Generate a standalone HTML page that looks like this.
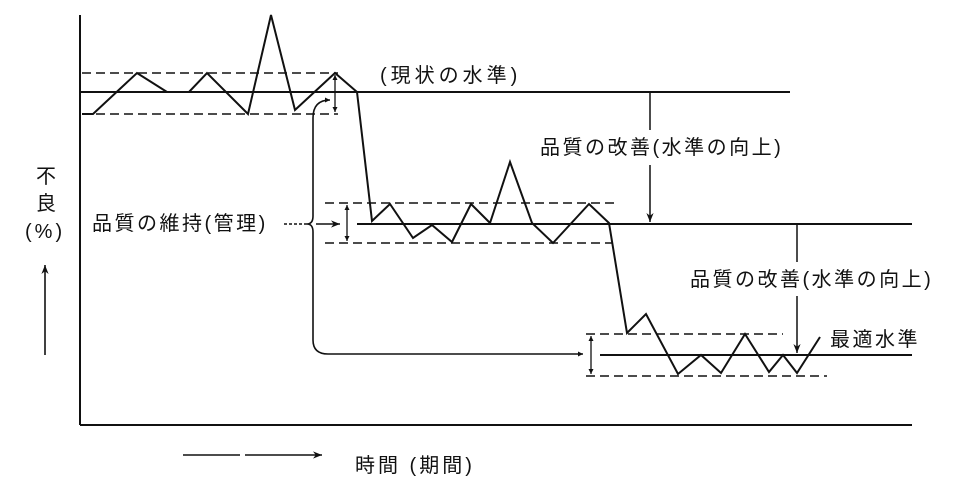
<!DOCTYPE html>
<html><head><meta charset="utf-8"><style>
html,body{margin:0;padding:0;background:#fff;}
svg{display:block;}
text{font-family:"Liberation Sans","Noto Sans CJK JP",sans-serif;font-size:20px;fill:#111;letter-spacing:2.5px;}
</style></head><body>
<svg width="978" height="486" viewBox="0 0 978 486" xmlns="http://www.w3.org/2000/svg">
<defs>
<marker id="ah" viewBox="0 0 10 10" refX="10" refY="5" markerWidth="9" markerHeight="9" orient="auto-start-reverse" markerUnits="userSpaceOnUse"><path d="M0,1 L10,5 L0,9 L3,5 z" fill="#111"/></marker>
<marker id="sm" viewBox="0 0 10 10" refX="10" refY="5" markerWidth="5" markerHeight="5" orient="auto-start-reverse" markerUnits="userSpaceOnUse"><path d="M0,0 L10,5 L0,10 z" fill="#111"/></marker>
</defs>
<g stroke="#111" fill="none" stroke-width="2">
<line x1="80" y1="15" x2="80" y2="425"/>
<line x1="80" y1="425" x2="912" y2="425"/>
<line x1="80" y1="92" x2="790" y2="92"/>
<line x1="357" y1="224" x2="912" y2="224"/>
<line x1="600" y1="355" x2="912" y2="355"/>
<g stroke-dasharray="9,5" stroke-width="1.6">
<line x1="82" y1="73" x2="338" y2="73"/><line x1="82" y1="114" x2="338" y2="114"/>
<line x1="325" y1="203" x2="619" y2="203"/><line x1="325" y1="243" x2="612" y2="243"/>
<line x1="586" y1="334" x2="783" y2="334"/><line x1="586" y1="376" x2="827" y2="376"/>
</g>
<polyline points="82,114 93,114 137,73 167,92 189,92 207,73 248,114 271,15 295,110 335,73 357,92 372,221 390,204 413,238 432,225 452,242 471,204 490,223 510,162 532,223 553,243 589,204 609,223 627,333 646,314 678,374 701,355 721,373 745,334 769,372 783,355 797,373 820,337"/>
<path d="M330,100 Q313,100 313,118 L313,216 Q313,224 307,224 Q313,224 313,232 L313,340 Q313,354 328,354 L583,354" stroke-width="1.6" marker-end="url(#sm)" marker-start="url(#sm)"/>
<line x1="284" y1="224" x2="307" y2="224" stroke-width="1.5" stroke-dasharray="3,2"/>
<line x1="316" y1="224" x2="340" y2="224" stroke-width="1.5" marker-end="url(#ah)"/>
<line x1="335" y1="75" x2="335" y2="112" stroke-width="1.3" marker-start="url(#sm)" marker-end="url(#sm)"/>
<line x1="347" y1="205" x2="347" y2="241" stroke-width="1.3" marker-start="url(#sm)" marker-end="url(#sm)"/>
<line x1="591" y1="336" x2="591" y2="374" stroke-width="1.3" marker-start="url(#sm)" marker-end="url(#sm)"/>
<line x1="650" y1="93" x2="650" y2="130" stroke-width="1.5"/>
<line x1="650" y1="165" x2="650" y2="222" stroke-width="1.5" marker-end="url(#ah)"/>
<line x1="797" y1="225" x2="797" y2="262" stroke-width="1.5"/>
<line x1="797" y1="296" x2="797" y2="353" stroke-width="1.5" marker-end="url(#ah)"/>
<line x1="45" y1="355" x2="45" y2="265" stroke-width="1.6" marker-end="url(#ah)"/>
<line x1="183" y1="455" x2="240" y2="455" stroke-width="1.6"/>
<line x1="245" y1="455" x2="322" y2="455" stroke-width="1.6" marker-end="url(#ah)"/>
</g>
<text x="380" y="82" style="letter-spacing:4px">(現状の水準)</text>
<text x="540" y="154">品質の改善(水準の向上)</text>
<text x="690" y="286">品質の改善(水準の向上)</text>
<text x="830" y="346">最適水準</text>
<text x="92" y="230">品質の維持(管理)</text>
<text x="36" y="183">不</text>
<text x="36" y="210">良</text>
<text x="25" y="238" style="letter-spacing:3px">(%)</text>
<text x="355" y="472" style="letter-spacing:3px">時間 (期間)</text>
</svg>
</body></html>
